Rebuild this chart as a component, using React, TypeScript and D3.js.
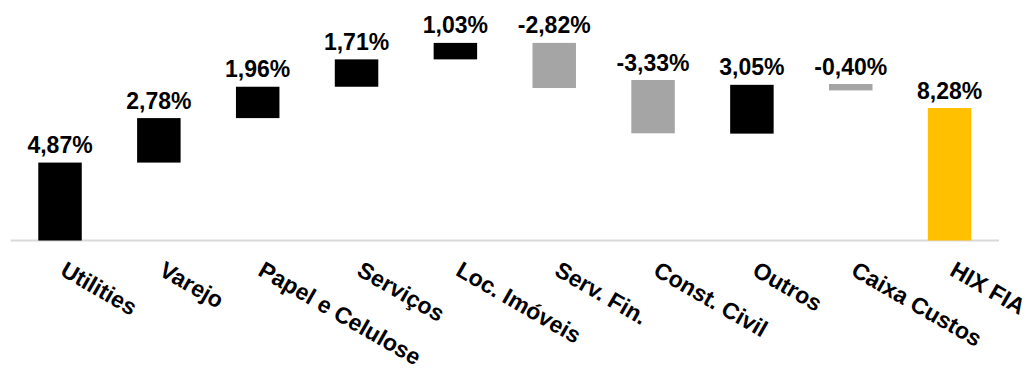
import React from "react";
import * as d3 from "d3";

const categories = ["Utilities", "Varejo", "Papel e Celulose", "Serviços", "Loc. Imóveis", "Serv. Fin.", "Const. Civil", "Outros", "Caixa Custos", "HIX FIA"];
const values = [4.87, 2.78, 1.96, 1.71, 1.03, -2.82, -3.33, 3.05, -0.40, 8.28];
// starting level of each floating bar
const bases = [0, 4.87, 7.65, 9.61, 11.32, 12.35, 10.03, 6.68, 9.78, 0];
const kinds = ["delta", "delta", "delta", "delta", "delta", "delta", "delta", "delta", "delta", "total"];

const W = 1035;
const H = 368;
const FONT = "'Liberation Sans', Arial, sans-serif";

export default function App() {
  const x = d3.scaleBand<string>().domain(categories).range([10.6, 999]).paddingInner(0.56).paddingOuter(0.28);
  const y = d3.scaleLinear().domain([0, 13]).range([240.5, 240.5 - 16 * 13]);
  const fmt = (v: number) => (v < 0 ? "-" : "") + d3.format(".2f")(Math.abs(v)).replace(".", ",") + "%";
  const color = (i: number) => (kinds[i] === "total" ? "#FFC000" : values[i] >= 0 ? "#000000" : "#A5A5A5");

  return (
    <svg width={W} height={H} style={{ position: "absolute", left: 0, top: 0, background: "#fff" }} fontFamily={FONT}>
      <line x1={x.range()[0]} x2={x.range()[1]} y1={y(0)} y2={y(0)} stroke="#D9D9D9" strokeWidth={2} />
      {categories.map((c, i) => {
        const a = bases[i];
        const b = bases[i] + values[i];
        const top = y(Math.max(a, b));
        const bot = y(Math.min(a, b));
        const cx = (x(c) as number) + x.bandwidth() / 2;
        return (
          <g key={c}>
            <rect x={x(c)} y={top} width={x.bandwidth()} height={bot - top} fill={color(i)} />
            <text x={cx} y={top - 9.5} textAnchor="middle" fontSize={23} fontWeight="bold" fill="#000">
              {fmt(values[i])}
            </text>
            <text
              transform={`translate(${cx - 1},${274.5}) rotate(30)`}
              textAnchor="start"
              fontSize={23}
              fontWeight="bold"
              fill="#000"
            >
              {c}
            </text>
          </g>
        );
      })}
    </svg>
  );
}
